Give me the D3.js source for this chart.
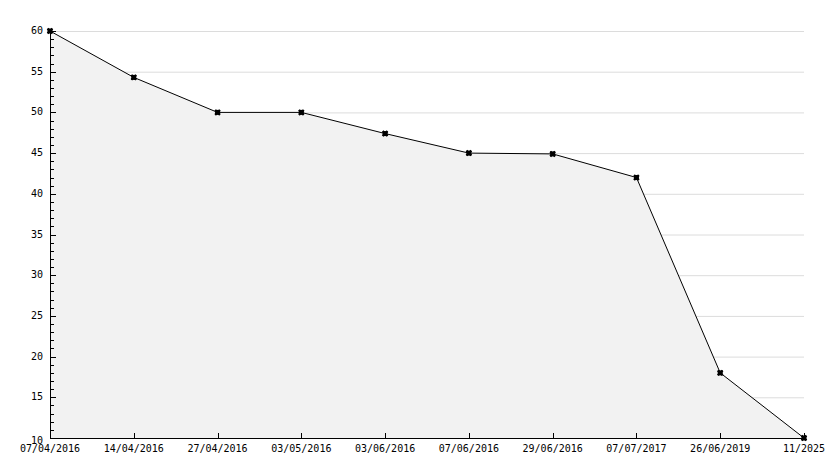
<!DOCTYPE html>
<html><head><meta charset="utf-8">
<script src="https://cdn.jsdelivr.net/npm/d3@7"></script>
<style>body{margin:0;background:#fff}text{font-family:"DejaVu Sans Mono",monospace;font-size:10px;fill:#000}</style>
</head><body><svg id="c" width="834" height="468"></svg>
<script>
// categories and values
var dates = ["07/04/2016","14/04/2016","27/04/2016","03/05/2016","03/06/2016","07/06/2016","29/06/2016","07/07/2017","26/06/2019","11/2025"];
var values = [60, 54.3, 50, 50, 47.4, 45, 44.9, 42, 18, 10];
var yTicks = [10,15,20,25,30,35,40,45,50,55,60];

var svg = d3.select('#c');
var x = d3.scalePoint().domain(dates).range([50, 804]);
var y = d3.scaleLinear().domain([10, 60]).range([438, 31]);

// gridlines
svg.selectAll('line.grid').data(yTicks.slice(1)).enter().append('line')
    .attr('x1', 50).attr('x2', 804)
    .attr('y1', function(d){ return y(d) + 0.5; }).attr('y2', function(d){ return y(d) + 0.5; })
    .attr('stroke', '#dcdcdc');

// area under the line
svg.append('path').datum(values)
    .attr('d', d3.area().x(function(d,i){ return x(dates[i]); }).y0(y(10)).y1(function(d){ return y(d); }))
    .attr('fill', '#f2f2f2');

svg.append('path').datum(values)
    .attr('d', d3.line().x(function(d,i){ return x(dates[i]); }).y(function(d){ return y(d); }))
    .attr('fill', 'none').attr('stroke', '#000').attr('stroke-width', 1);

// y axis: ticks point inward, minor every 1
var minor = d3.range(10, 61);
svg.append('line').attr('x1', 50.5).attr('x2', 50.5).attr('y1', 31).attr('y2', 438).attr('stroke', '#000');
svg.selectAll('line.ym').data(minor).enter().append('line')
    .attr('x1', 50).attr('x2', function(d){ return d % 5 === 0 ? 56 : 54; })
    .attr('y1', function(d){ return Math.round(y(d)) + 0.5; }).attr('y2', function(d){ return Math.round(y(d)) + 0.5; })
    .attr('stroke', '#000');
svg.selectAll('text.yl').data(yTicks).enter().append('text')
    .attr('x', 43).attr('y', function(d){ return y(d) + (d === 10 ? 6 : 3); })
    .attr('text-anchor', 'end').text(function(d){ return d; });

// x axis
svg.append('line').attr('x1', 50).attr('x2', 805).attr('y1', 438.5).attr('y2', 438.5).attr('stroke', '#000');
svg.selectAll('line.xt').data(dates).enter().append('line')
    .attr('x1', function(d){ return Math.round(x(d)) + 0.5; }).attr('x2', function(d){ return Math.round(x(d)) + 0.5; })
    .attr('y1', 433).attr('y2', 438).attr('stroke', '#000');
svg.selectAll('text.xl').data(dates).enter().append('text')
    .attr('x', function(d){ return x(d); }).attr('y', 452)
    .attr('text-anchor', 'middle').text(function(d){ return d; });

// markers
var sym = d3.symbol().type(d3.symbolCross).size(26);
svg.selectAll('path.m').data(values).enter().append('path')
    .attr('transform', function(d,i){ return 'translate(' + x(dates[i]) + ',' + y(d) + ') rotate(45)'; })
    .attr('d', sym).attr('fill', '#000');
svg.selectAll('rect.m').data(values).enter().append('rect')
    .attr('x', function(d,i){ return x(dates[i]) - 2.5; }).attr('y', function(d){ return y(d) - 2.5; })
    .attr('width', 5).attr('height', 5).attr('fill', '#000');
</script></body></html>
